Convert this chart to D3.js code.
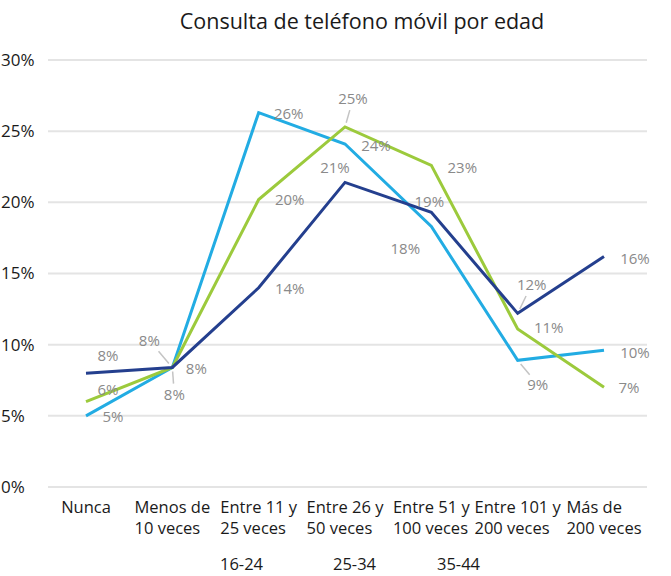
<!DOCTYPE html>
<html>
<head>
<meta charset="utf-8">
<script src="https://cdn.jsdelivr.net/npm/d3@7"></script>
<style>
  html, body { margin: 0; padding: 0; background: #fff; }
  svg { display: block; font-family: 'Open Sans', sans-serif; }
</style>
</head>
<body>
<svg id="chart" width="671" height="576"></svg>
<script>
// categories (x axis), wrapped on two lines
const categories = [
  ['Nunca'],
  ['Menos de', '10 veces'],
  ['Entre 11 y', '25 veces'],
  ['Entre 26 y', '50 veces'],
  ['Entre 51 y', '100 veces'],
  ['Entre 101 y', '200 veces'],
  ['Más de', '200 veces']
]
const seriesNames = ['16-24', '25-34', '35-44']
// values in %
const values1624 = [5.0, 8.4, 26.3, 24.1, 18.3, 8.9, 9.6]
const values2534 = [6.0, 8.4, 20.2, 25.3, 22.6, 11.1, 7.0]
const values3544 = [8.0, 8.4, 14.0, 21.4, 19.3, 12.2, 16.2]
const yTicks = [0, 5, 10, 15, 20, 25, 30]

function makeChart() {
  const svg = d3.select('#chart')
  const colors = ['#22ace3', '#9cca3c', '#243f8e']
  const allValues = [values1624, values2534, values3544]

  // label offsets from the point (dx, dy) and whether a leader line is drawn
  const labelOffsets = [
    [[27, 1], [2, 27], [30, 1], [31, 2], [-26, 22], [20, 24], [31, 2]],
    [[22, -12], [24, 1], [31, 0], [8, -28], [31, 2], [31, -1], [25, 0]],
    [[22, -17], [-23, -27], [31, 1], [-10, -15], [-2, -11], [14, -29], [31, 2]]
  ]
  const leaders = [
    [false, true, false, false, false, true, false],
    [false, false, false, true, false, false, false],
    [false, true, false, false, false, true, false]
  ]

  const x = d3.scalePoint()
    .domain(d3.range(categories.length))
    .range([86, 604])
  const y = d3.scaleLinear()
    .domain([0, 30])
    .range([487, 60])

  // title
  svg.append('text')
    .attr('x', 362)
    .attr('y', 29)
    .attr('text-anchor', 'middle')
    .attr('font-size', 21.5)
    .attr('fill', '#1a1a1a')
    .text('Consulta de teléfono móvil por edad')

  // grid lines
  svg.append('g')
    .selectAll('line')
    .data(yTicks)
    .enter()
    .append('line')
    .attr('x1', 48)
    .attr('x2', 647)
    .attr('y1', d => y(d))
    .attr('y2', d => y(d))
    .attr('stroke', '#e4e4e4')
    .attr('stroke-width', 2)

  // y tick labels, hugging the left edge
  svg.append('g')
    .selectAll('text')
    .data(yTicks)
    .enter()
    .append('text')
    .attr('x', 1)
    .attr('y', d => y(d))
    .attr('dy', '0.35em')
    .attr('font-size', 17)
    .attr('fill', '#1a1a1a')
    .text(d => d + '%')

  // x category labels: lines left-aligned, block centred on the point
  const cat = svg.append('g')
    .selectAll('text')
    .data(categories)
    .enter()
    .append('text')
    .attr('font-size', 16.5)
    .attr('fill', '#1a1a1a')
  cat.selectAll('tspan')
    .data((d, i) => d.map(t => ({ t, i })))
    .enter()
    .append('tspan')
    .attr('y', (d, j) => 513 + j * 21)
    .text(d => d.t)
  cat.each(function(d, i) {
    const spans = d3.select(this).selectAll('tspan')
    let w = 0
    spans.each(function() { w = Math.max(w, this.getComputedTextLength()) })
    spans.attr('x', x(i) - w / 2)
  })

  // lines
  const line = d3.line()
    .x((d, i) => x(i))
    .y(d => y(d))
  svg.append('g')
    .selectAll('path')
    .data(allValues)
    .enter()
    .append('path')
    .attr('d', line)
    .attr('fill', 'none')
    .attr('stroke', (d, i) => colors[i])
    .attr('stroke-width', 3)
    .attr('stroke-linejoin', 'miter')

  // data labels and leader lines
  allValues.forEach((vals, s) => {
    const g = svg.append('g')
    vals.forEach((v, i) => {
      const px = x(i)
      const py = y(v)
      const [dx, dy] = labelOffsets[s][i]
      if (leaders[s][i]) {
        g.append('line')
          .attr('x1', px + dx * 0.15)
          .attr('y1', py + dy * 0.15)
          .attr('x2', px + dx * 0.6)
          .attr('y2', py + dy * 0.6)
          .attr('stroke', '#c4c4c4')
          .attr('stroke-width', 1.5)
      }
      g.append('text')
        .attr('x', px + dx)
        .attr('y', py + dy)
        .attr('dy', '0.35em')
        .attr('text-anchor', 'middle')
        .attr('font-size', 15)
        .attr('fill', '#8a8a8a')
        .text(Math.round(v) + '%')
    })
  })

  // legend (text only)
  const legendX = [220, 333, 437]
  svg.append('g')
    .selectAll('text')
    .data(seriesNames)
    .enter()
    .append('text')
    .attr('x', (d, i) => legendX[i])
    .attr('y', 570)
    .attr('font-size', 16.5)
    .attr('fill', '#1a1a1a')
    .text(d => d)
}

window.onload = makeChart
</script>
</body>
</html>
